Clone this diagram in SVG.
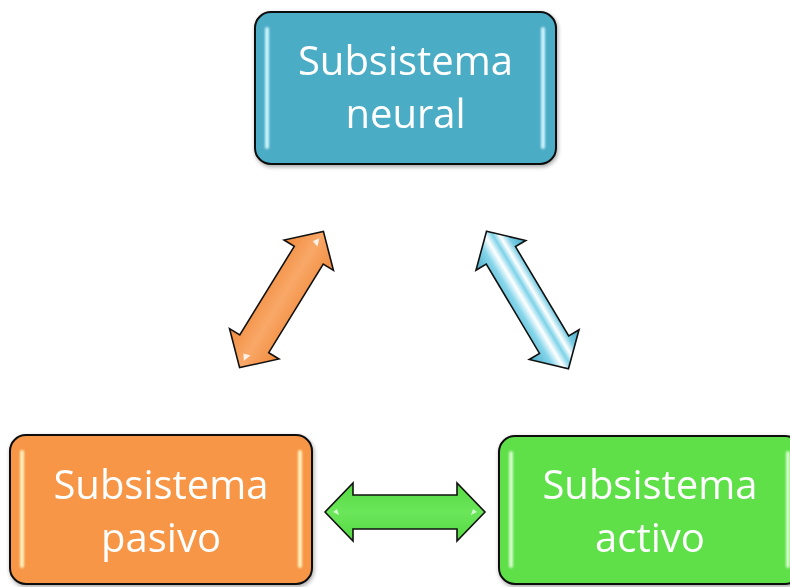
<svg xmlns="http://www.w3.org/2000/svg" width="790" height="587" viewBox="0 0 790 587">
  <defs>
    <style>
      .box { stroke: #111; stroke-width: 2; }
      .label { font-family: "Open Sans", "Liberation Sans", sans-serif; font-size: 40px; fill: #ffffff; text-anchor: middle; }
      .arrow { stroke: #111; stroke-width: 1.6; stroke-linejoin: miter; }
    </style>
    <filter id="soft" filterUnits="userSpaceOnUse" x="0" y="0" width="790" height="587">
      <feGaussianBlur stdDeviation="0.8"/>
    </filter>
    <filter id="shadow" x="-10%" y="-10%" width="125%" height="125%">
      <feGaussianBlur in="SourceAlpha" stdDeviation="2"/>
      <feOffset dx="1" dy="2"/>
      <feComponentTransfer><feFuncA type="linear" slope="0.35"/></feComponentTransfer>
      <feMerge><feMergeNode/><feMergeNode in="SourceGraphic"/></feMerge>
    </filter>
    <path id="dblArrow" d="M-80,0 L-52,-29 L-52,-17 L52,-17 L52,-29 L80,0 L52,29 L52,17 L-52,17 L-52,29 Z"/>
    <linearGradient id="gBlueArrow" x1="0" y1="0" x2="0" y2="1">
      <stop offset="0" stop-color="#48A8C3"/>
      <stop offset="0.22" stop-color="#78CDE4"/>
      <stop offset="0.34" stop-color="#FFFFFF"/>
      <stop offset="0.44" stop-color="#7CD2E9"/>
      <stop offset="0.56" stop-color="#FFFFFF"/>
      <stop offset="0.7" stop-color="#86D6EB"/>
      <stop offset="1" stop-color="#48A8C3"/>
    </linearGradient>
    <linearGradient id="gOrangeArrow" x1="0" y1="0" x2="0" y2="1">
      <stop offset="0" stop-color="#F08A3C"/>
      <stop offset="0.5" stop-color="#F9A868"/>
      <stop offset="1" stop-color="#F08A3C"/>
    </linearGradient>
    <linearGradient id="gGreenArrow" x1="0" y1="0" x2="0" y2="1">
      <stop offset="0" stop-color="#55D942"/>
      <stop offset="0.5" stop-color="#6BE65A"/>
      <stop offset="1" stop-color="#55D942"/>
    </linearGradient>
  </defs>

  <rect width="790" height="587" fill="#ffffff"/>

  <g id="connectors">
    <g id="arrow-neural-pasivo" transform="translate(281.5,299.5) rotate(-58.4)">
      <use href="#dblArrow" class="arrow" fill="url(#gOrangeArrow)"/>
      <path d="M66,-4 L72,0 L64,3 Z" fill="#ffffff" opacity="0.85"/>
      <path d="M-66,-4 L-72,0 L-64,3 Z" fill="#ffffff" opacity="0.85"/>
    </g>
    <g id="arrow-neural-activo" transform="translate(527.5,300) rotate(59.2)">
      <use href="#dblArrow" class="arrow" fill="url(#gBlueArrow)"/>
    </g>
    <g id="arrow-pasivo-activo" transform="translate(405,512)">
      <use href="#dblArrow" class="arrow" fill="url(#gGreenArrow)"/>
      <path d="M-68,-3 L-72,0 L-66,3 Z" fill="#ffffff" opacity="0.7"/>
      <path d="M68,-3 L72,0 L66,3 Z" fill="#ffffff" opacity="0.7"/>
    </g>
  </g>

  <g id="node-neural" filter="url(#shadow)">
    <rect class="box" x="255" y="12" width="301" height="152" rx="16" fill="#4BACC6"/>
    <rect x="265" y="27" width="4" height="122" rx="2" fill="#CDF3FB" filter="url(#soft)"/>
    <rect x="541" y="27" width="4" height="122" rx="2" fill="#CDF3FB" filter="url(#soft)"/>
    <text class="label" x="405.5" y="75">Subsistema</text>
    <text class="label" x="405.5" y="128">neural</text>
  </g>

  <g id="node-pasivo" filter="url(#shadow)">
    <rect class="box" x="10" y="435" width="302" height="149" rx="16" fill="#F79646"/>
    <rect x="20" y="450" width="4" height="118" rx="2" fill="#FFF2C0" filter="url(#soft)"/>
    <rect x="298" y="450" width="4" height="118" rx="2" fill="#FFF2C0" filter="url(#soft)"/>
    <text class="label" x="161" y="499">Subsistema</text>
    <text class="label" x="161" y="552">pasivo</text>
  </g>

  <g id="node-activo" filter="url(#shadow)">
    <rect class="box" x="499" y="436" width="302" height="148" rx="16" fill="#5EE04A"/>
    <rect x="509" y="451" width="4" height="117" rx="2" fill="#D8FBCC" filter="url(#soft)"/>
    <rect x="786" y="451" width="4" height="117" rx="2" fill="#D8FBCC" filter="url(#soft)"/>
    <text class="label" x="650" y="499">Subsistema</text>
    <text class="label" x="650" y="552">activo</text>
  </g>
</svg>
